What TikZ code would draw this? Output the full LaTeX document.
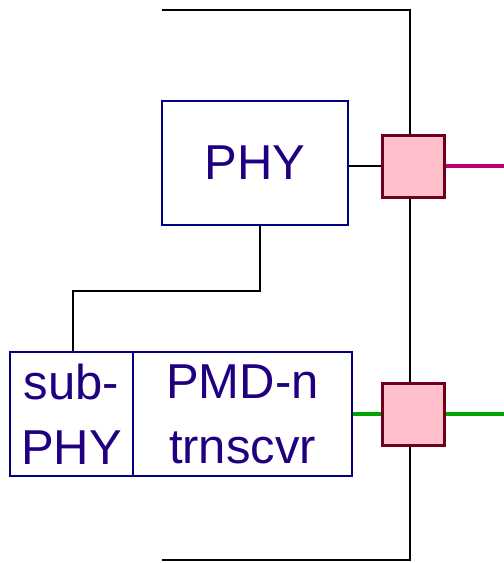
\documentclass[tikz,border=0pt]{standalone}
\usepackage{fontspec}
\setmainfont{Liberation Sans}
\usepackage{tikz}
\definecolor{cBox}{RGB}{0,0,128}
\definecolor{cText}{RGB}{32,0,128}
\definecolor{cPort}{RGB}{255,192,203}
\definecolor{cPortEdge}{RGB}{110,0,30}
\definecolor{cLinkA}{RGB}{190,0,120}
\definecolor{cLinkB}{RGB}{0,165,0}
\tikzset{
  blockbox/.style={draw=cBox,line width=2pt,inner sep=0pt,text=cText,align=center,
    font=\fontsize{49}{65}\selectfont},
  portbox/.style={draw=cPortEdge,fill=cPort,line width=3pt,minimum size=62pt,inner sep=0pt},
}
\begin{document}
\begin{tikzpicture}[x=1pt,y=-1pt]
\useasboundingbox (0,0) rectangle (504,563);
% frame
\draw[line width=2pt] (162,10) -| (410,560) -- (162,560);
\node[blockbox,minimum width=186pt,minimum height=124pt] (phy) at (255,163) {PHY};
\node[blockbox,minimum width=123pt,minimum height=124pt] (subphy) at (71.5,414) {sub-\\PHY};
\node[blockbox,minimum width=219pt,minimum height=124pt] (pmd) at (242.5,414) {PMD-n\\trnscvr};
\node[portbox] (portA) at (413,166) {};
\node[portbox] (portB) at (413,414) {};
\coordinate (linkA) at (504,166);
\coordinate (linkB) at (504,414);
% connectors
\draw[line width=2pt] ([xshift=5pt]phy.south) -- ++(0,65) -| ([xshift=1.5pt]subphy.north);
\draw[line width=2pt] (portA.west -| phy.east) -- (portA.west);
\draw[cLinkA,line width=4pt] (portA.east) -- (linkA);
\draw[cLinkB,line width=4pt] (pmd.east) -- (portB.west);
\draw[cLinkB,line width=4pt] (portB.east) -- (linkB);
\end{tikzpicture}
\end{document}
